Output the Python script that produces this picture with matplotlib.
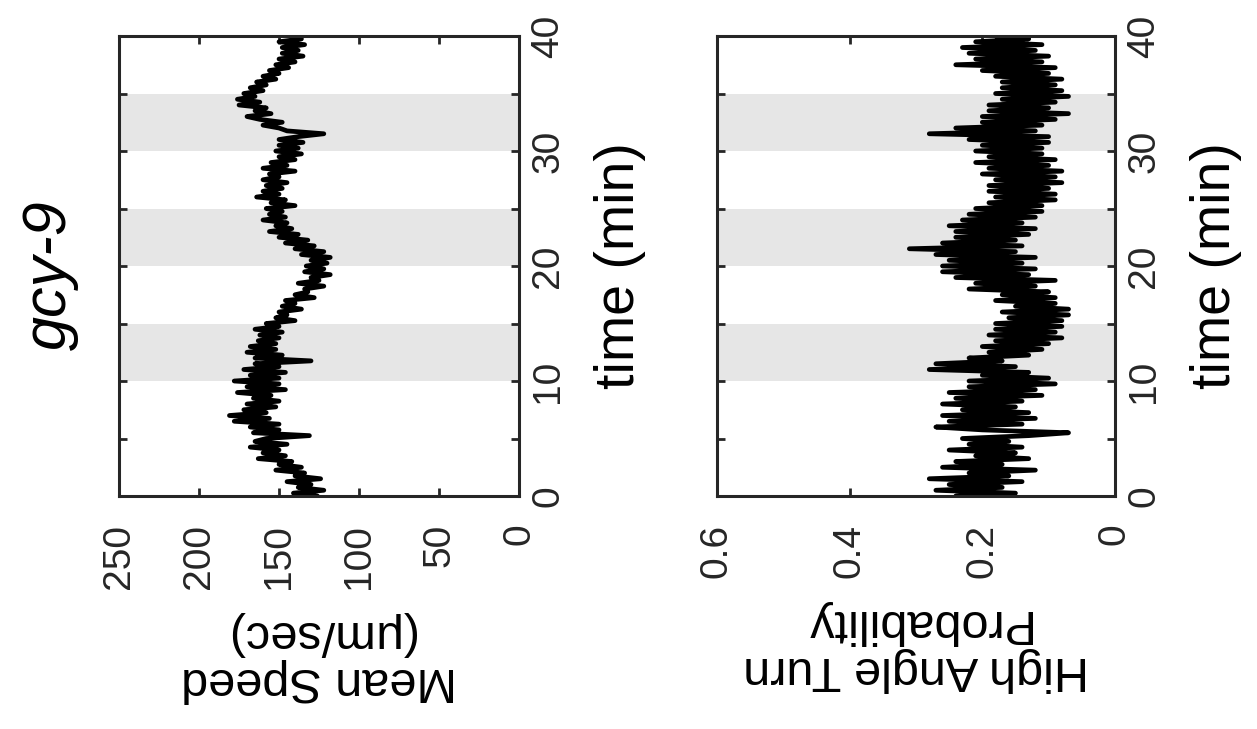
import numpy as np
import matplotlib
matplotlib.use('Agg')
from matplotlib import pyplot as plt

# sampling times (min), one value every 15 s
time_min = np.arange(0, 40.01, 0.25)

# mean speed (um/sec)
speed = [
    126, 141, 122, 138,
    130, 145, 124, 140,
    134, 152, 136, 150,
    142, 163, 146, 160,
    150, 168, 145, 165,
    158, 131, 166, 150,
    168, 150, 178, 156,
    181, 158, 172, 152,
    170, 150, 166, 155,
    176, 146, 170, 150,
    178, 150, 168, 146,
    172, 150, 165, 130,
    165, 148, 170, 152,
    168, 152, 163, 150,
    162, 148, 165, 150,
    158, 140, 152, 145,
    150, 136, 148, 140,
    146, 128, 140, 132,
    134, 122, 138, 125,
    130, 118, 134, 122,
    133, 120, 130, 118,
    136, 122, 140, 128,
    146, 132, 150, 138,
    156, 142, 152, 145,
    160, 146, 156, 148,
    158, 140, 155, 146,
    164, 150, 160, 148,
    158, 145, 160, 150,
    156, 140, 160, 145,
    155, 140, 150, 136,
    152, 138, 150, 135,
    150, 138, 122, 145,
    150, 160, 148, 162,
    170, 155, 165, 158,
    175, 162, 176, 165,
    172, 160, 168, 158,
    164, 152, 160, 150,
    156, 144, 152, 140,
    150, 135, 148, 138,
    148, 134, 150, 136,
    140,
]

# high angle turn probability
turn_prob = [
    0.24, 0.15, 0.27, 0.17,
    0.25, 0.14, 0.28, 0.16,
    0.22, 0.12, 0.26, 0.17,
    0.24, 0.13, 0.21, 0.15,
    0.25, 0.14, 0.22, 0.16,
    0.23, 0.13, 0.07, 0.20,
    0.27, 0.14, 0.25, 0.12,
    0.26, 0.13, 0.23, 0.15,
    0.26, 0.14, 0.24, 0.11,
    0.25, 0.12, 0.22, 0.09,
    0.22, 0.10, 0.20, 0.13,
    0.28, 0.15, 0.27, 0.17,
    0.22, 0.13, 0.19, 0.11,
    0.20, 0.10, 0.18, 0.08,
    0.19, 0.09, 0.18, 0.08,
    0.18, 0.08, 0.16, 0.07,
    0.17, 0.07, 0.15, 0.09,
    0.18, 0.09, 0.17, 0.10,
    0.22, 0.12, 0.21, 0.09,
    0.24, 0.13, 0.26, 0.12,
    0.26, 0.14, 0.25, 0.12,
    0.27, 0.15, 0.31, 0.14,
    0.26, 0.15, 0.24, 0.13,
    0.24, 0.12, 0.25, 0.14,
    0.23, 0.12, 0.22, 0.11,
    0.21, 0.11, 0.19, 0.09,
    0.18, 0.09, 0.19, 0.10,
    0.19, 0.08, 0.18, 0.09,
    0.20, 0.08, 0.19, 0.10,
    0.21, 0.09, 0.19, 0.11,
    0.21, 0.11, 0.20, 0.10,
    0.22, 0.10, 0.28, 0.12,
    0.24, 0.11, 0.20, 0.09,
    0.20, 0.07, 0.19, 0.10,
    0.19, 0.09, 0.17, 0.07,
    0.18, 0.08, 0.17, 0.09,
    0.17, 0.08, 0.18, 0.10,
    0.20, 0.09, 0.24, 0.11,
    0.21, 0.10, 0.22, 0.12,
    0.23, 0.11, 0.21, 0.13,
    0.18,
]

# stimulus windows (min)
stim_windows = [(10, 15), (20, 25), (30, 35)]

time_ticks = [0, 5, 10, 15, 20, 25, 30, 35, 40]
time_ticklabels = ['0', '', '10', '', '20', '', '30', '', '40']
speed_ticks = [0, 50, 100, 150, 200, 250]
speed_ticklabels = ['0', '50', '100', '150', '200', '250']
prob_ticks = [0, 0.2, 0.4, 0.6]
prob_ticklabels = ['0', '0.2', '0.4', '0.6']

plt.rcParams['font.family'] = ['Liberation Sans', 'DejaVu Sans']
axis_color = '#262626'


def draw_panel(ax, values, xmax, xticks, xticklabels, xlabel):
    for start, end in stim_windows:
        ax.axhspan(start, end, color='#e6e6e6', lw=0, zorder=0)
    ax.plot(values, time_min, color='black', lw=3.4, solid_joinstyle='round',
            solid_capstyle='round', zorder=2)
    ax.set_xlim(xmax, 0)
    ax.set_ylim(0, 40)
    ax.set_xticks(xticks)
    ax.set_xticklabels(xticklabels, rotation=90, fontsize=28, color=axis_color)
    ax.set_yticks(time_ticks)
    ax.set_yticklabels(time_ticklabels, rotation=90, fontsize=28, color=axis_color,
                       va='center')
    ax.tick_params(axis='both', direction='in', length=6, width=2, color=axis_color,
                   top=True, bottom=True, left=True, right=True,
                   labelleft=False, labelright=True)
    ax.tick_params(axis='x', pad=20)
    ax.tick_params(axis='y', pad=8)
    for sp in ax.spines.values():
        sp.set_linewidth(2.2)
        sp.set_color(axis_color)
        sp.set_zorder(3)
    ax.set_xlabel(xlabel, rotation=180, fontsize=35, linespacing=1.05, labelpad=16)
    ax.yaxis.set_label_position('right')
    ax.set_ylabel('time (min)', rotation=90, fontsize=40, labelpad=20)


fig = plt.figure(figsize=(12.57, 7.29), dpi=100)
ax1 = fig.add_axes([0.0947, 0.3196, 0.3182, 0.631])
ax2 = fig.add_axes([0.5704, 0.3196, 0.3166, 0.631])

draw_panel(ax1, speed, 250, speed_ticks, speed_ticklabels, 'Mean Speed\n(\u03bcm/sec)')
draw_panel(ax2, turn_prob, 0.6, prob_ticks, prob_ticklabels, 'High Angle Turn\nProbability')

fig.text(50 / 1257, 1 - 275 / 729, 'gcy-9', rotation=90, fontsize=44, style='italic',
         ha='center', va='center')

fig.savefig('out.png', dpi=100)
